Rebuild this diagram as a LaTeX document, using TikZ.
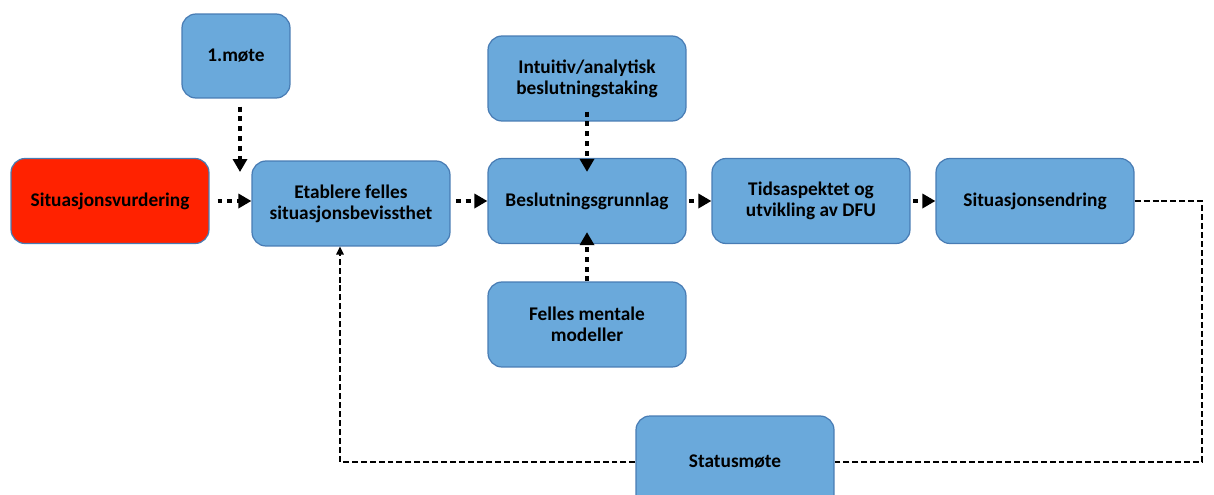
\documentclass[tikz,border=0pt]{standalone}
\usepackage{fontspec}
\setmainfont{Carlito}
\usepackage{xcolor}
\usetikzlibrary{arrows.meta,calc,positioning}
\definecolor{boxblue}{RGB}{106,169,219}
\definecolor{boxedge}{RGB}{72,124,180}
\definecolor{alertred}{RGB}{255,34,0}

\begin{document}
\begin{tikzpicture}[
    x=0.02cm,
    y=-0.02cm,
    stagebox/.style={
        draw=boxedge,
        fill=boxblue,
        line width=0.7pt,
        rounded corners=0.28cm,
        minimum width=3.96cm,
        minimum height=1.70cm,
        inner sep=2pt,
        align=center,
        font=\bfseries\fontsize{11}{12}\selectfont
    },
    alertbox/.style={
        stagebox,
        fill=alertred
    },
    flowarrow/.style={
        draw=black,
        line width=2.5pt,
        dash pattern=on 2.8pt off 2.8pt,
        -{Triangle[length=2.6mm,width=2.8mm]}
    },
    feedbackline/.style={
        draw=black,
        line width=0.9pt,
        dash pattern=on 3.4pt off 1.7pt
    }
]

\useasboundingbox (0,0) rectangle (1214,494);

\node[alertbox] (vurdering) at (110,201) {Situasjonsvurdering};
\node[stagebox,minimum width=2.16cm,minimum height=1.68cm] (mote) at (236,56) {1.møte};
\node[stagebox] (etablere) at (351,203.5) {Etablere felles\\situasjonsbevissthet};
\node[stagebox] (intuitiv) at (587,78.5) {Intuitiv/analytisk\\beslutningstaking};
\node[stagebox] (grunnlag) at (587,201) {Beslutningsgrunnlag};
\node[stagebox] (mentale) at (587,324.5) {Felles mentale\\modeller};
\node[stagebox] (tid) at (811,201) {Tidsaspektet og\\utvikling av DFU};
\node[stagebox] (endring) at (1035,201) {Situasjonsendring};
\node[stagebox,minimum height=1.84cm] (status) at (735,462) {Statusmøte};

\coordinate (motetip) at (240,172);
\coordinate (loopcorner) at (1202,462);
\coordinate (loopleft) at (340,462);

\draw[flowarrow,shorten <=4.5pt] (vurdering.east) -- (vurdering.east -| etablere.west);
\draw[flowarrow] ($(mote.south)+(4,8)$) -- (motetip);
\draw[flowarrow,shorten <=3pt] (etablere.east |- grunnlag.west) -- (grunnlag.west);
\draw[flowarrow,shorten <=-0.2cm,shorten >=-0.28cm] (intuitiv) -- (grunnlag);
\draw[flowarrow,shorten >=-0.24cm] (mentale) -- (grunnlag);
\draw[flowarrow,shorten <=1.5pt] (grunnlag) -- (tid);
\draw[flowarrow,shorten <=1.5pt] (tid) -- (endring);

\draw[feedbackline] (endring.east) -| (loopcorner) -- (status.east);
\draw[feedbackline,-{Triangle[length=1.6mm,width=1.5mm]}] (status.west) -- (loopleft) -- (loopleft |- etablere.south);

\end{tikzpicture}
\end{document}
